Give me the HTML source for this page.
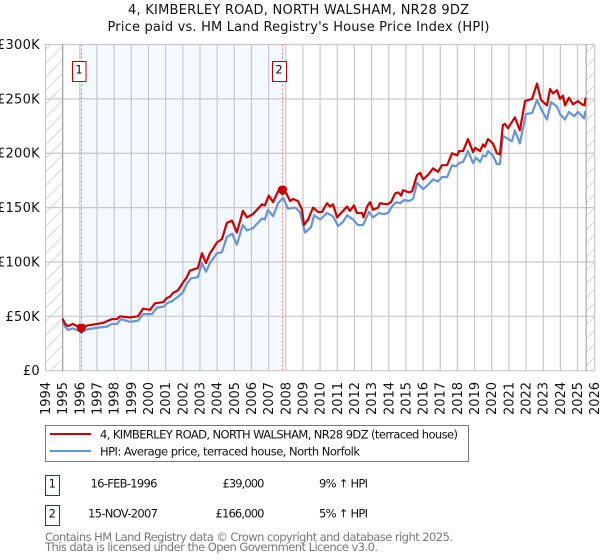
<!DOCTYPE html>
<html>
<head>
<meta charset="utf-8">
<style>
html,body{margin:0;padding:0;background:#fff;}
svg{display:block;font-family:"DejaVu Sans",sans-serif;}
text{fill:#111;}
</style>
</head>
<body>
<svg id="chart" width="600" height="560" viewBox="0 0 600 560" xmlns="http://www.w3.org/2000/svg">
<defs>
<pattern id="hatch" width="13.6" height="13.6" patternUnits="userSpaceOnUse">
<path d="M-1 14.6L14.6 -1M-1 1L1 -1M12.6 14.6L14.6 12.6" stroke="#d4d4d4" stroke-width="1" fill="none"/>
</pattern>
</defs>
<rect x="0" y="0" width="600" height="560" fill="#fff"/>
<text x="298.5" y="14" text-anchor="middle" font-size="13" textLength="341">4, KIMBERLEY ROAD, NORTH WALSHAM, NR28 9DZ</text>
<text x="298.5" y="31" text-anchor="middle" font-size="13" textLength="382">Price paid vs. HM Land Registry's House Price Index (HPI)</text>
<g id="plot"></g>
<g>
<rect x="45.5" y="425.5" width="423" height="36" fill="#fff" stroke="#777" stroke-width="1"/>
<line x1="50" x2="91" y1="434" y2="434" stroke="#cc0000" stroke-width="2"/>
<line x1="50" x2="91" y1="451" y2="451" stroke="#6495d8" stroke-width="2"/>
<text x="100" y="438.5" font-size="11.5" textLength="358">4, KIMBERLEY ROAD, NORTH WALSHAM, NR28 9DZ (terraced house)</text>
<text x="100" y="455.5" font-size="11.5" textLength="260">HPI: Average price, terraced house, North Norfolk</text>
</g>
<g>
<rect x="45.5" y="475.5" width="14" height="20" fill="#fff" stroke="#c00000"/>
<text x="52.3" y="487.5" text-anchor="middle" font-size="11.5">1</text>
<text x="124" y="487.5" text-anchor="middle" font-size="11.5" textLength="67">16-FEB-1996</text>
<text x="264.5" y="487.5" text-anchor="end" font-size="11.5" textLength="42">£39,000</text>
<text x="319" y="487.5" font-size="11.5" textLength="49">9% ↑ HPI</text>
<rect x="45.5" y="505.5" width="14" height="20" fill="#fff" stroke="#c00000"/>
<text x="52.3" y="517.5" text-anchor="middle" font-size="11.5">2</text>
<text x="123" y="517.5" text-anchor="middle" font-size="11.5" textLength="70">15-NOV-2007</text>
<text x="264.5" y="517.5" text-anchor="end" font-size="11.5" textLength="49">£166,000</text>
<text x="319" y="517.5" font-size="11.5" textLength="49">5% ↑ HPI</text>
</g>
<text x="45" y="541" font-size="11.5" style="fill:#777" textLength="408">Contains HM Land Registry data © Crown copyright and database right 2025.</text>
<text x="45" y="551" font-size="11.5" style="fill:#777" textLength="333">This data is licensed under the Open Government Licence v3.0.</text>
</svg>
<script>
const yearTicks = [1994,1995,1996,1997,1998,1999,2000,2001,2002,2003,2004,2005,2006,2007,2008,2009,2010,2011,2012,2013,2014,2015,2016,2017,2018,2019,2020,2021,2022,2023,2024,2025,2026];
const valueTicks = [0,50,100,150,200,250,300];
const valueTickLabels = ["£0","£50K","£100K","£150K","£200K","£250K","£300K"];
const saleNumbers = ["1","2"];
const saleDates = [1996.09,2007.81];
const salePrices = [39,166];
const priceDates = [1995.0,1995.14,1995.31,1995.6,1995.89,1996.09,1996.42,1997.0,1997.35,1997.88,1998.17,1998.34,1998.92,1999.39,1999.68,2000.09,2000.38,2000.85,2001.08,2001.25,2001.43,2001.72,2002.01,2002.24,2002.41,2002.88,2003.12,2003.35,2003.58,2003.76,2003.99,2004.28,2004.57,2004.87,2005.15,2005.5,2005.74,2006.09,2006.61,2006.78,2007.01,2007.26,2007.55,2007.81,2008.07,2008.25,2008.42,2008.71,2008.95,2009.06,2009.3,2009.59,2009.88,2010.11,2010.4,2010.58,2010.75,2010.99,2011.28,2011.57,2011.74,2011.97,2012.15,2012.44,2012.53,2012.74,2012.91,2013.08,2013.38,2013.49,2013.9,2014.13,2014.37,2014.54,2014.72,2014.83,2015.18,2015.36,2015.65,2015.83,2016.0,2016.29,2016.58,2016.87,2017.1,2017.4,2017.69,2017.98,2018.1,2018.33,2018.62,2018.91,2019.03,2019.32,2019.49,2019.6,2019.78,2020.07,2020.3,2020.48,2020.65,2020.77,2020.95,2021.35,2021.64,2021.94,2022.35,2022.64,2022.87,2023.22,2023.4,2023.57,2023.8,2023.98,2024.15,2024.27,2024.5,2024.74,2025.03,2025.26,2025.41,2025.47];
const priceValues = [48,43,41,43,40.5,39,41.5,43,44,47.5,47.5,50,49,50,57,56,62,63,67,68,71.5,74,81,86,92,94.5,108,99,108,112,118,121,136,138,127,147,141,144,153,152,161,155,165,168,162,156,158,156,148,134,139,150,146,146,154,151,153,141,146,151,147,152,145,145,141,151,155,148,150,154,153,155,163,164,161,166,164,165,180,182,176,180,186,183,189,189,200,198,202,202,213,201,205,202,208,206,213,209,200,199,226,227,223,233,221,248,250,264,249,244,259,255,258,250,253,244,251,245,248,245,244,251];
const hpiDates = [1995.0,1995.14,1995.31,1995.6,1996.01,1996.42,1997.0,1997.58,1997.88,1998.17,1998.4,1998.92,1999.39,1999.68,2000.2,2000.5,2000.9,2001.08,2001.37,2001.72,2002.01,2002.24,2002.48,2002.88,2003.12,2003.35,2003.58,2003.99,2004.28,2004.57,2004.87,2005.15,2005.5,2005.74,2006.09,2006.61,2006.78,2006.96,2007.26,2007.55,2007.84,2008.13,2008.54,2008.83,2009.12,2009.47,2009.65,2010.0,2010.4,2010.75,2011.05,2011.34,2011.57,2011.92,2012.21,2012.5,2012.85,2013.08,2013.43,2013.67,2013.96,2014.19,2014.43,2014.66,2014.89,2015.18,2015.42,2015.65,2016.0,2016.29,2016.58,2016.87,2017.1,2017.4,2017.69,2017.92,2018.1,2018.33,2018.62,2018.91,2019.09,2019.32,2019.49,2019.66,2019.78,2020.07,2020.3,2020.48,2020.65,2021.18,2021.35,2021.64,2021.99,2022.35,2022.64,2022.93,2023.22,2023.46,2023.8,2023.98,2024.27,2024.5,2024.8,2025.03,2025.38,2025.46];
const hpiValues = [45,40.5,37.5,39,36,38,39.5,40.5,43,43,47.5,45,46,52,52,58,59,62,64,68,72,80,85,86,99,91,99,108,109,123,126,116,134,129,131,140,139,148,142,154,159,149,150,146,127,132,143,139,145,142,133,137,143,139,134,134,146,141,145,144,145,151,155,154,157,156,158,173,167,171,176,174,178,178,189,188,191,192,202,191,196,192,198,197,202,198,190,190,216,211,221,209,236,237,249,239,231,247,243,236,231,238,234,238,232,239];

const NS = "http://www.w3.org/2000/svg";
const plot = document.getElementById("plot");
const left = 45.5, right = 594.7, top_ = 44.5, bottom = 370.7;
const dataStart = 1995, dataEnd = 2025.5;
function xScale(year){ return left + (year - 1994) * (right - left) / 32; }
function yScale(v){ return bottom - v * (bottom - top_) / 300; }
function make(tag, attrs, parent){
  const el = document.createElementNS(NS, tag);
  for (const k in attrs) el.setAttribute(k, attrs[k]);
  (parent || plot).appendChild(el);
  return el;
}
function pathOf(dates, values){
  return dates.map((d,i)=>(i?"L":"M")+xScale(d).toFixed(2)+" "+yScale(values[i]).toFixed(2)).join("");
}

const hatchL = make("rect",{x:left,y:top_,width:xScale(dataStart)-left,height:bottom-top_,fill:"url(#hatch)"});


const hatchR = make("rect",{x:xScale(dataEnd),y:top_,width:right-xScale(dataEnd),height:bottom-top_,fill:"url(#hatch)"});


const band = make("rect",{x:xScale(saleDates[0]),y:top_,width:xScale(saleDates[1])-xScale(saleDates[0]),height:bottom-top_,fill:"#f4f8ff"});



yearTicks.forEach(function(y){
  const x = xScale(y);
  const g = make("line",{x1:x,x2:x,y1:top_,y2:bottom,stroke:"#c8c8c8","stroke-width":1.2});
  
  
  const t = make("text",{x:x+4.5,y:415,"font-size":13,transform:"rotate(-90 "+(x+4.5)+" 415)"});
  t.textContent = y;
  
  
});
valueTicks.forEach(function(v,i){
  const y = yScale(v);
  const g = make("line",{x1:left,x2:right,y1:y,y2:y,stroke:"#c8c8c8","stroke-width":1.2});
  
  
  const t = make("text",{x:40,y:y+4.5,"text-anchor":"end","font-size":13,"letter-spacing":"0.3"});
  t.textContent = valueTickLabels[i];
  
  
});
[dataStart,dataEnd].forEach(function(y){
  const b = make("line",{x1:xScale(y),x2:xScale(y),y1:top_,y2:bottom,stroke:"#999","stroke-width":1});
  
  
});
saleDates.forEach(function(d){
  const l = make("line",{x1:xScale(d),x2:xScale(d),y1:top_,y2:bottom,stroke:"#f47c84","stroke-width":1,"stroke-dasharray":"2 2"});
  
  
});
const hpiLine = make("path",{d:pathOf(hpiDates,hpiValues),fill:"none",stroke:"#6495d8","stroke-width":2.2,"stroke-linejoin":"round"});


const priceLine = make("path",{d:pathOf(priceDates,priceValues),fill:"none",stroke:"#cc0000","stroke-width":2.2,"stroke-linejoin":"round"});


saleDates.forEach(function(d,i){
  const cx = xScale(d), cy = yScale(salePrices[i]);
  const m = make("path",{d:"M"+(cx-5)+" "+(cy-1.5)+"L"+(cx-2.5)+" "+(cy-4.5)+"L"+(cx+2.5)+" "+(cy-4.5)+"L"+(cx+5)+" "+(cy-1.5)+"L"+(cx+3.5)+" "+(cy+2.5)+"L"+cx+" "+(cy+5.5)+"L"+(cx-3.5)+" "+(cy+2.5)+"Z",fill:"#cc0000"});
  
  
  const bx = cx - 9.3 + (i ? -1 : 0);
  const r = make("rect",{x:Math.floor(bx)+0.5,y:61.5,width:i?14:13.5,height:20,fill:"#fff",stroke:"#c00000","stroke-width":1});
  
  
  const t = make("text",{x:Math.floor(bx)+7,y:73.5,"text-anchor":"middle","font-size":11.5});
  t.textContent = saleNumbers[i];
  
  
});
</script>
</body>
</html>
